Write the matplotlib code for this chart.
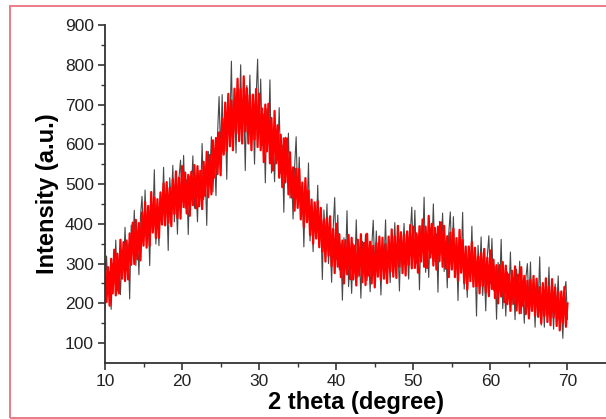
import matplotlib
matplotlib.use('Agg')
import matplotlib.pyplot as plt
import numpy as np
from matplotlib.patches import Rectangle

plt.rcParams['font.family'] = ['Liberation Sans', 'DejaVu Sans']

# 2 theta grid, 0.2 degree steps from 10 to 70
two_theta = np.linspace(10, 70, 301)

# raw counts (black), one row per degree
raw = [
    236, 319, 228, 280, 185,   # 10
    300, 260, 359, 231, 292,   # 11
    222, 329, 284, 391, 282,   # 12
    350, 211, 397, 333, 434,   # 13
    295, 376, 272, 418, 469,   # 14
    365, 485, 355, 430, 295,   # 15
    460, 398, 536, 349, 432,   # 16
    345, 474, 413, 542, 401,   # 17
    475, 333, 516, 449, 547,   # 18
    405, 482, 374, 516, 560,   # 19
    455, 572, 439, 511, 373,   # 20
    520, 476, 571, 439, 496,   # 21
    405, 534, 473, 602, 461,   # 22
    535, 396, 582, 518, 619,   # 23
    480, 567, 471, 625, 720,   # 24
    576, 725, 574, 669, 512,   # 25
    715, 642, 809, 586, 687,   # 26
    578, 728, 650, 800, 626,   # 27
    710, 534, 748, 662, 774,   # 28
    598, 685, 550, 715, 814,   # 29
    631, 764, 597, 676, 503,   # 30
    690, 606, 762, 528, 618,   # 31
    506, 638, 560, 692, 526,   # 32
    598, 429, 618, 532, 628,   # 33
    465, 531, 412, 543, 619,   # 34
    460, 568, 426, 489, 342,   # 35
    495, 424, 553, 357, 431,   # 36
    330, 449, 378, 497, 346,   # 37
    410, 260, 435, 360, 450,   # 38
    300, 369, 253, 387, 466,   # 39
    310, 422, 284, 351, 208,   # 40
    365, 299, 433, 242, 321,   # 41
    225, 350, 285, 410, 265,   # 42
    330, 213, 356, 299, 374,   # 43
    257, 317, 229, 341, 409,   # 44
    289, 382, 275, 332, 221,   # 45
    350, 300, 410, 260, 326,   # 46
    252, 353, 302, 403, 288,   # 47
    345, 231, 377, 323, 401,   # 48
    287, 348, 261, 373, 442,   # 49
    318, 434, 301, 372, 234,   # 50
    395, 331, 467, 278, 359,   # 51
    265, 390, 325, 450, 305,   # 52
    375, 228, 406, 334, 427,   # 53
    280, 352, 239, 376, 430,   # 54
    305, 418, 289, 349, 207,   # 55
    365, 297, 429, 236, 313,   # 56
    215, 338, 271, 394, 247,   # 57
    315, 168, 346, 274, 367,   # 58
    220, 293, 181, 319, 370,   # 59
    250, 363, 233, 293, 160,   # 60
    303, 241, 361, 187, 257,   # 61
    168, 279, 218, 329, 196,   # 62
    258, 159, 286, 222, 306,   # 63
    174, 240, 150, 264, 300,   # 64
    202, 304, 181, 242, 140,   # 65
    257, 197, 317, 145, 215,   # 66
    140, 240, 179, 291, 158,   # 67
    221, 135, 249, 184, 269,   # 68
    136, 203, 112, 228, 255,   # 69
    160,                       # 70
]

# smoothed trace (red)
smooth = [
    305, 203, 291, 194, 312,   # 10
    225, 335, 220, 325, 225,   # 11
    360, 262, 354, 256, 358,   # 12
    260, 376, 297, 403, 299,   # 13
    410, 311, 402, 308, 429,   # 14
    345, 455, 340, 445, 345,   # 15
    480, 378, 466, 364, 462,   # 16
    365, 479, 398, 502, 396,   # 17
    505, 403, 491, 394, 512,   # 18
    425, 532, 414, 516, 413,   # 19
    545, 442, 529, 426, 523,   # 20
    420, 531, 447, 548, 439,   # 21
    545, 444, 533, 437, 556,   # 22
    470, 581, 467, 573, 474,   # 23
    610, 517, 616, 525, 630,   # 24
    522, 665, 574, 705, 584,   # 25
    727, 595, 710, 585, 740,   # 26
    628, 765, 608, 738, 602,   # 27
    771, 632, 741, 602, 724,   # 28
    585, 725, 612, 739, 593,   # 29
    727, 585, 690, 555, 700,   # 30
    582, 702, 552, 666, 534,   # 31
    684, 552, 648, 516, 624,   # 32
    492, 615, 504, 615, 474,   # 33
    580, 466, 542, 433, 539,   # 34
    440, 538, 411, 504, 392,   # 35
    515, 404, 483, 372, 461,   # 36
    350, 454, 363, 457, 341,   # 37
    440, 330, 410, 305, 415,   # 38
    320, 419, 293, 387, 276,   # 39
    400, 292, 374, 266, 358,   # 40
    250, 359, 273, 372, 261,   # 41
    365, 260, 345, 245, 360,   # 42
    270, 374, 253, 352, 246,   # 43
    375, 270, 355, 250, 345,   # 44
    240, 351, 267, 368, 259,   # 45
    365, 262, 349, 251, 368,   # 46
    280, 386, 267, 368, 264,   # 47
    395, 292, 379, 276, 373,   # 48
    270, 381, 297, 397, 288,   # 49
    393, 289, 376, 277, 394,   # 50
    305, 411, 292, 393, 289,   # 51
    420, 315, 400, 295, 390,   # 52
    285, 393, 306, 404, 292,   # 53
    395, 287, 369, 266, 378,   # 54
    285, 388, 266, 364, 257,   # 55
    385, 277, 359, 251, 343,   # 56
    235, 343, 256, 354, 242,   # 57
    340, 243, 318, 225, 327,   # 58
    244, 337, 227, 315, 218,   # 59
    333, 236, 310, 213, 296,   # 60
    200, 296, 217, 304, 203,   # 61
    295, 198, 273, 181, 282,   # 62
    199, 293, 182, 272, 175,   # 63
    291, 194, 269, 173, 257,   # 64
    162, 259, 181, 269, 169,   # 65
    262, 166, 241, 150, 251,   # 66
    169, 263, 153, 242, 145,   # 67
    261, 164, 240, 143, 228,   # 68
    132, 230, 152, 241, 141,   # 69
    200,                       # 70
]

xticks = [10, 20, 30, 40, 50, 60, 70]
yticks = [100, 200, 300, 400, 500, 600, 700, 800, 900]

W, H = 606, 419
fig = plt.figure(figsize=(W / 100, H / 100), dpi=100)
ax = fig.add_axes([105 / W, (H - 363) / H, (W - 105) / W, 338 / H])

ax.plot(two_theta, raw, color='#1a1a1a', lw=0.8, alpha=0.8)
ax.plot(two_theta, smooth, color='#ff0000', lw=1.6)

ax.set_xlim(10, 75)
ax.set_ylim(50, 900)
ax.set_xticks(xticks)
ax.set_yticks(yticks)
ax.set_xticks(np.arange(15, 75, 10), minor=True)
ax.set_yticks(np.arange(150, 900, 100), minor=True)

for s in ['top', 'right']:
    ax.spines[s].set_visible(False)
for s in ['left', 'bottom']:
    ax.spines[s].set_linewidth(1.3)
    ax.spines[s].set_color('#333333')

ax.tick_params(which='major', direction='out', length=5, width=1.2,
               colors='#333333', labelsize=12.5, labelcolor='#222222', pad=3)
ax.tick_params(which='minor', direction='out', length=3, width=1.0,
               colors='#333333')

ax.set_xlabel('2 theta (degree)', fontsize=17, fontweight='bold', labelpad=1)
ax.set_ylabel('Intensity (a.u.)', fontsize=17, fontweight='bold', labelpad=4)

# pinkish frame around the picture
fig.patches.append(Rectangle((10 / W, 1 / H), 1.0, (H - 7) / H,
                             transform=fig.transFigure, fill=False,
                             edgecolor='#ec7a86', lw=1.4))

fig.savefig('out.png', dpi=100)
